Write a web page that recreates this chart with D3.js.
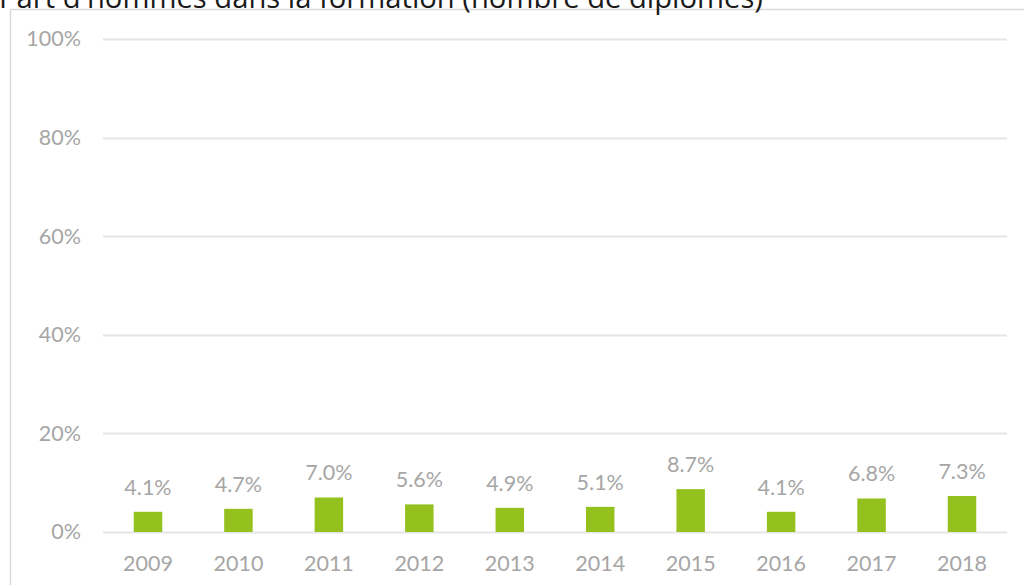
<!DOCTYPE html>
<html><head><meta charset="utf-8">
<script src="https://cdn.jsdelivr.net/npm/d3@7"></script>
<style>body{margin:0;background:#fff;overflow:hidden}svg{display:block}</style>
</head><body>
<svg id="c" width="1024" height="585"></svg>
<script>
const years = ["2009","2010","2011","2012","2013","2014","2015","2016","2017","2018"];
const shares = [4.1,4.7,7.0,5.6,4.9,5.1,8.7,4.1,6.8,7.3];
const yTicks = [0,20,40,60,80,100];
const title = "Part d'hommes dans la formation (nombre de diplômés)";

const svg = d3.select("#c");
const x = d3.scaleBand().domain(years).range([103,1007]).paddingInner(0.685).paddingOuter(0.34);
const y = d3.scaleLinear().domain([0,100]).range([532,39]);
const gray = "#a6a6a6";
const font = "Lato, 'Open Sans', sans-serif";

// frame
svg.append("path").attr("d","M10.5,585 V9.5 H1024").attr("fill","none").attr("stroke","#d9d9d9").attr("stroke-width",1.5);

// title
svg.append("text").attr("x",-1).attr("y",8).text(title)
  .attr("font-family","'Open Sans', sans-serif").attr("font-size",29.2).attr("fill","#1a1a1a");

// grid
svg.append("g").selectAll("line").data(yTicks).join("line")
  .attr("x1",103).attr("x2",1007).attr("y1",d=>Math.round(y(d))+0.5).attr("y2",d=>Math.round(y(d))+0.5)
  .attr("stroke","#e6e6e6").attr("stroke-width",2);

// y axis
const ya = svg.append("g").attr("transform","translate(81,0)")
  .call(d3.axisLeft(y).tickValues(yTicks).tickFormat(d=>d+"%").tickSize(0).tickPadding(0));
ya.select(".domain").remove();
ya.selectAll("text").attr("font-family",font).attr("font-size",21.5).attr("fill",gray);

// x axis
const xa = svg.append("g").attr("transform","translate(0,556)")
  .call(d3.axisBottom(x).tickSize(0).tickPadding(0));
xa.select(".domain").remove();
xa.selectAll("text").attr("font-family",font).attr("font-size",21.5).attr("fill",gray).attr("dy","0.71em");

// bars
svg.append("g").selectAll("rect").data(shares).join("rect")
  .attr("x",(d,i)=>x(years[i])).attr("width",x.bandwidth())
  .attr("y",d=>y(d)).attr("height",d=>y(0)-y(d))
  .attr("fill","#95c11f");

// labels
svg.append("g").selectAll("text").data(shares).join("text")
  .attr("x",(d,i)=>x(years[i])+x.bandwidth()/2).attr("y",d=>y(d)-17)
  .attr("text-anchor","middle").attr("font-family",font).attr("font-size",21.5).attr("fill",gray)
  .text(d=>d.toFixed(1)+"%");
</script>
</body></html>
